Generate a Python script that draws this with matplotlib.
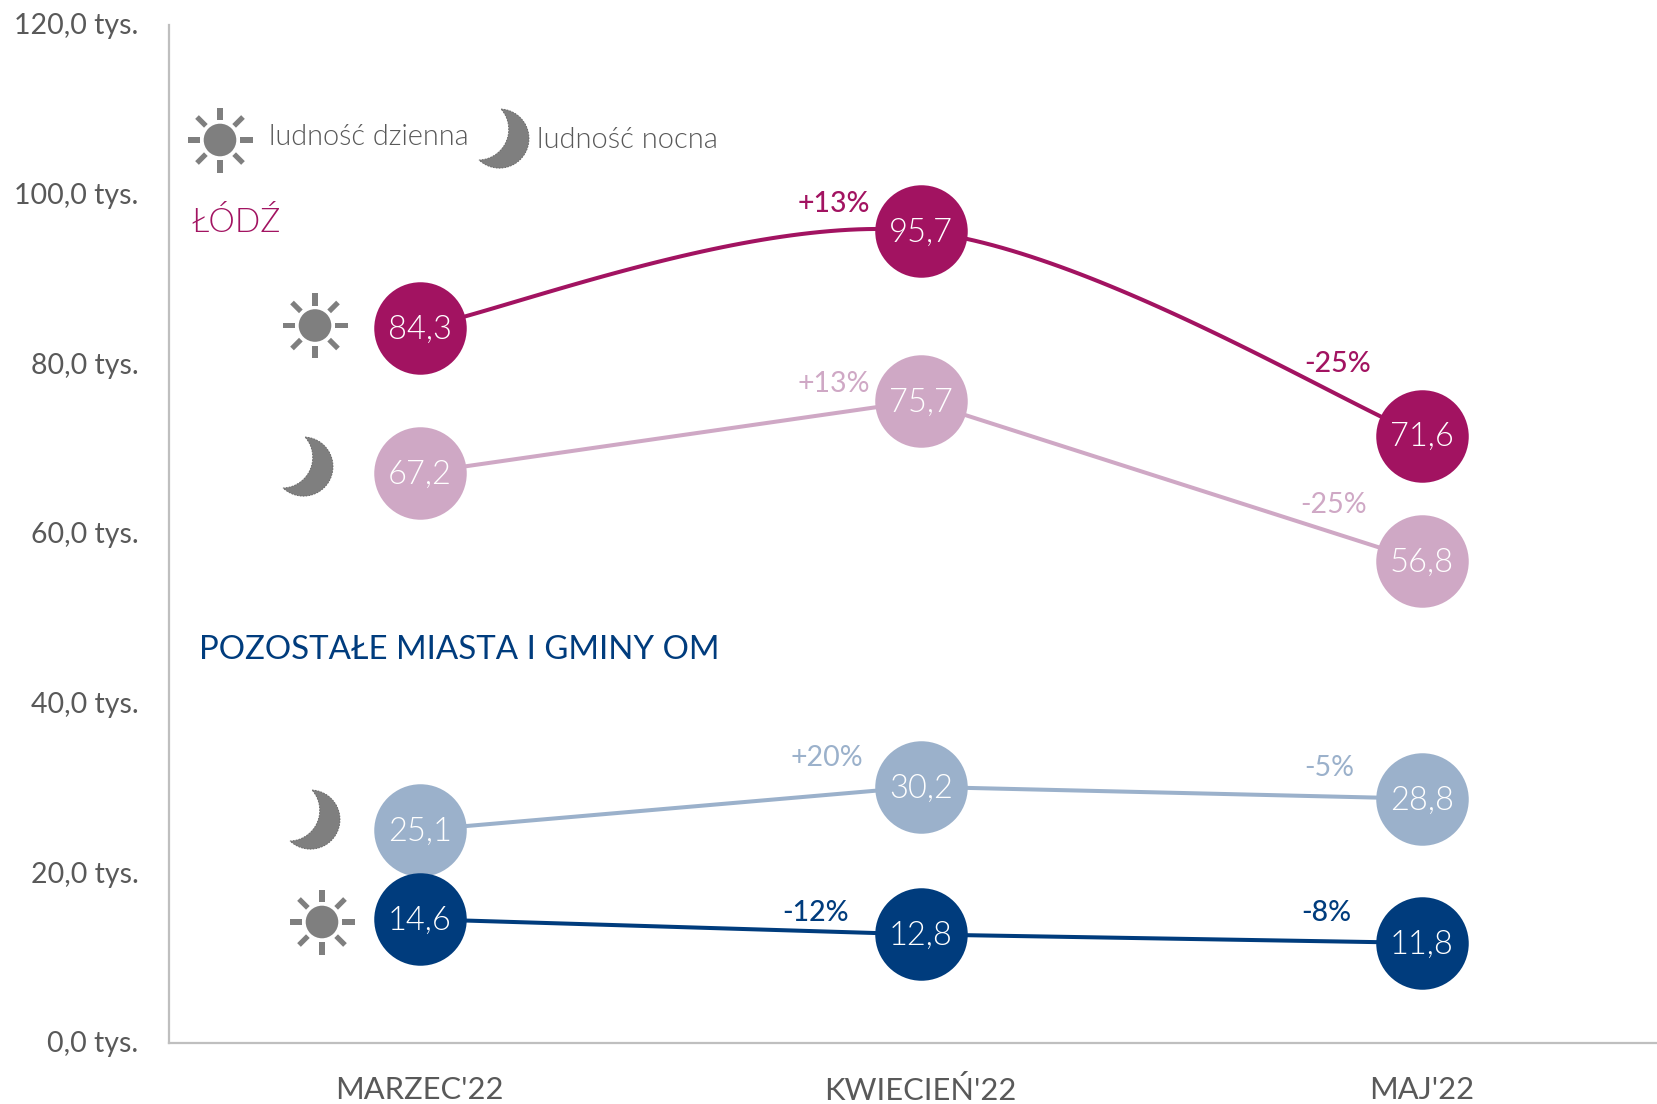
import numpy as np
import matplotlib
matplotlib.use("Agg")
import matplotlib.pyplot as plt
from matplotlib import font_manager as fm
from matplotlib.path import Path
from matplotlib.patches import PathPatch, Circle, Rectangle
from matplotlib.transforms import Affine2D, ScaledTranslation

plt.rcParams['font.family'] = ['Lato', 'DejaVu Sans']

months = ["MARZEC'22", "KWIECIEŃ'22", "MAJ'22"]
y_ticks = [0, 20, 40, 60, 80, 100, 120]
y_tick_labels = ["0,0 tys.", "20,0 tys.", "40,0 tys.", "60,0 tys.", "80,0 tys.", "100,0 tys.", "120,0 tys."]

lodz_day = [84.3, 95.7, 71.6]
lodz_night = [67.2, 75.7, 56.8]
om_night = [25.1, 30.2, 28.8]
om_day = [14.6, 12.8, 11.8]

lodz_day_pct = ["+13%", "-25%"]
lodz_night_pct = ["+13%", "-25%"]
om_night_pct = ["+20%", "-5%"]
om_day_pct = ["-12%", "-8%"]

C_LD = "#A21361"
C_LN = "#CFA8C5"
C_ON = "#9BB1CB"
C_OD = "#003C7D"
GRAY = "#7F7F7F"
TXT = "#595959"


def light_font():
    """Find a true 'Light' face (not Hairline/Thin) among the installed fonts."""
    files = [f.fname for f in fm.fontManager.ttflist]
    for stem in ("Lato-Light.", "Lato-Light", "Roboto-Light.", "OpenSans-Light.", "NotoSans-Light."):
        for f in files:
            if stem in f.split("/")[-1]:
                return f
    return None


LIGHT = light_font()


def lightfp(size):
    if LIGHT:
        return fm.FontProperties(fname=LIGHT, size=size)
    return fm.FontProperties(family="Lato", size=size)


W, H = 1657, 1104
fig = plt.figure(figsize=(W / 100, H / 100), dpi=100)
L, R, T, B = 169, 1657, 25, 1043
ax = fig.add_axes([L / W, 1 - B / H, (R - L) / W, (B - T) / H])
ax.set_xlim(-0.5, 2.469)
ax.set_ylim(0, 120)
for s in ("top", "right"):
    ax.spines[s].set_visible(False)
for s in ("left", "bottom"):
    ax.spines[s].set_color("#BFBFBF")
    ax.spines[s].set_linewidth(1.6)
ax.set_xticks(range(3), months)
ax.set_yticks(y_ticks, y_tick_labels)
ax.tick_params(length=0)
ax.tick_params(axis="y", pad=22, labelsize=20.5, labelcolor=TXT)
ax.tick_params(axis="x", pad=24, labelsize=22.2, labelcolor=TXT)
for lab in ax.get_yticklabels():
    lab.set_transform(lab.get_transform() + ScaledTranslation(0, 1.2 / 100, fig.dpi_scale_trans))


def smooth(vals, n=60):
    """Excel-style smoothed line through the data points."""
    p = np.column_stack([np.arange(len(vals), dtype=float), vals])
    xs, ys = [], []
    for i in range(len(p) - 1):
        p0 = p[max(i - 1, 0)]
        p1, p2 = p[i], p[i + 1]
        p3 = p[min(i + 2, len(p) - 1)]
        c1 = p1 + (p2 - p0) / 6
        c2 = p2 - (p3 - p1) / 6
        t = np.linspace(0, 1, n)[:, None]
        b = (1 - t) ** 3 * p1 + 3 * (1 - t) ** 2 * t * c1 + 3 * (1 - t) * t ** 2 * c2 + t ** 3 * p2
        xs.extend(b[:, 0])
        ys.extend(b[:, 1])
    return xs, ys


LW = 2.9
x = np.arange(3)
sx, sy = smooth(lodz_day)
ax.plot(sx, sy, color=C_LD, lw=LW, zorder=2, solid_capstyle="butt")
ax.plot(x, lodz_night, color=C_LN, lw=LW, zorder=2)
ax.plot(x, om_night, color=C_ON, lw=LW, zorder=2)
ax.plot(x, om_day, color=C_OD, lw=LW, zorder=2)

for vals, col in [(lodz_day, C_LD), (lodz_night, C_LN), (om_night, C_ON), (om_day, C_OD)]:
    ax.scatter(x, vals, s=(92.5 * 0.72) ** 2, color=col, linewidths=0, zorder=3, clip_on=False)
    for xi, v in zip(x, vals):
        ax.annotate(f"{v:.1f}".replace(".", ","), (xi, v), xytext=(0, -1.2), textcoords="offset points",
                    color="white", fontproperties=lightfp(23.5), ha="center", va="center", zorder=4)

# overlay in pixel coordinates for icons and free text
ov = fig.add_axes([0, 0, 1, 1], facecolor="none")
ov.set_xlim(0, W)
ov.set_ylim(H, 0)
ov.axis("off")


def txt(px, py, s, col, size, weight="normal"):
    ov.text(px, py, s, color=col, fontsize=size, fontweight=weight, ha="center", va="center")


def ltxt(px, py, s, col, size):
    ov.text(px, py, s, color=col, fontproperties=lightfp(size), ha="center", va="center")


pct_pos = [
    (lodz_day_pct, C_LD, [(834, 204), (1338, 364)], "medium", 20.5),
    (lodz_night_pct, C_LN, [(834, 384), (1334, 505)], "normal", 20.5),
    (om_night_pct, C_ON, [(827, 758), (1329, 768)], "normal", 20.5),
    (om_day_pct, C_OD, [(816, 913), (1326, 913)], "medium", 20.5),
]
for labels, col, pos, wt, size in pct_pos:
    for lab, (px, py) in zip(labels, pos):
        txt(px, py, lab, col, size, wt)

ltxt(369, 137, "ludność dzienna", TXT, 20.8)
ltxt(627, 140, "ludność nocna", TXT, 21)
ltxt(236, 222, "ŁÓDŹ", C_LD, 24)
txt(459, 650, "POZOSTAŁE MIASTA I GMINY OM", C_OD, 23.8)


def sun(cx, cy):
    ov.add_patch(Circle((cx, cy), 16.3, color=GRAY, lw=0))
    for a in range(0, 360, 45):
        tr = Affine2D().rotate_deg(a).translate(cx, cy) + ov.transData
        ov.add_patch(Rectangle((20, -2.6), 12.5, 5.2, color=GRAY, lw=0, transform=tr))


def circle3(a, b, c):
    (ax_, ay), (bx, by), (cx, cy) = a, b, c
    d = 2 * (ax_ * (by - cy) + bx * (cy - ay) + cx * (ay - by))
    ux = ((ax_**2 + ay**2) * (by - cy) + (bx**2 + by**2) * (cy - ay) + (cx**2 + cy**2) * (ay - by)) / d
    uy = ((ax_**2 + ay**2) * (cx - bx) + (bx**2 + by**2) * (ax_ - cx) + (cx**2 + cy**2) * (bx - ax_)) / d
    return ux, uy, np.hypot(ax_ - ux, ay - uy)


def arc(a, mid, b, n=40):
    ux, uy, r = circle3(a, mid, b)
    t0 = np.arctan2(a[1] - uy, a[0] - ux)
    tm = np.arctan2(mid[1] - uy, mid[0] - ux)
    t1 = np.arctan2(b[1] - uy, b[0] - ux)
    d1 = (t1 - t0) % (2 * np.pi)
    dm = (tm - t0) % (2 * np.pi)
    if dm > d1:
        d1 -= 2 * np.pi
    t = t0 + np.linspace(0, 1, n) * d1
    return np.column_stack([ux + r * np.cos(t), uy + r * np.sin(t)])


def moon(x0, y0):
    """x0, y0: left/top corner of the crescent box (50 x 58 px)."""
    A = (22 + x0, 0 + y0)
    Bp = (0 + x0, 51 + y0)
    outer = arc(A, (50 + x0, 29 + y0), Bp)
    inner = arc(Bp, (29 + x0, 27 + y0), A)
    pts = np.vstack([outer, inner])
    ov.add_patch(PathPatch(Path(pts, closed=False), facecolor=GRAY, edgecolor="#636363", lw=0.6,
                           linestyle=(0, (2, 1.5))))


sun(220, 140)
sun(315, 325.5)
sun(322, 922)
moon(479, 109)
moon(283, 437)
moon(290, 790)

fig.savefig("out.png", dpi=100, facecolor="white")
